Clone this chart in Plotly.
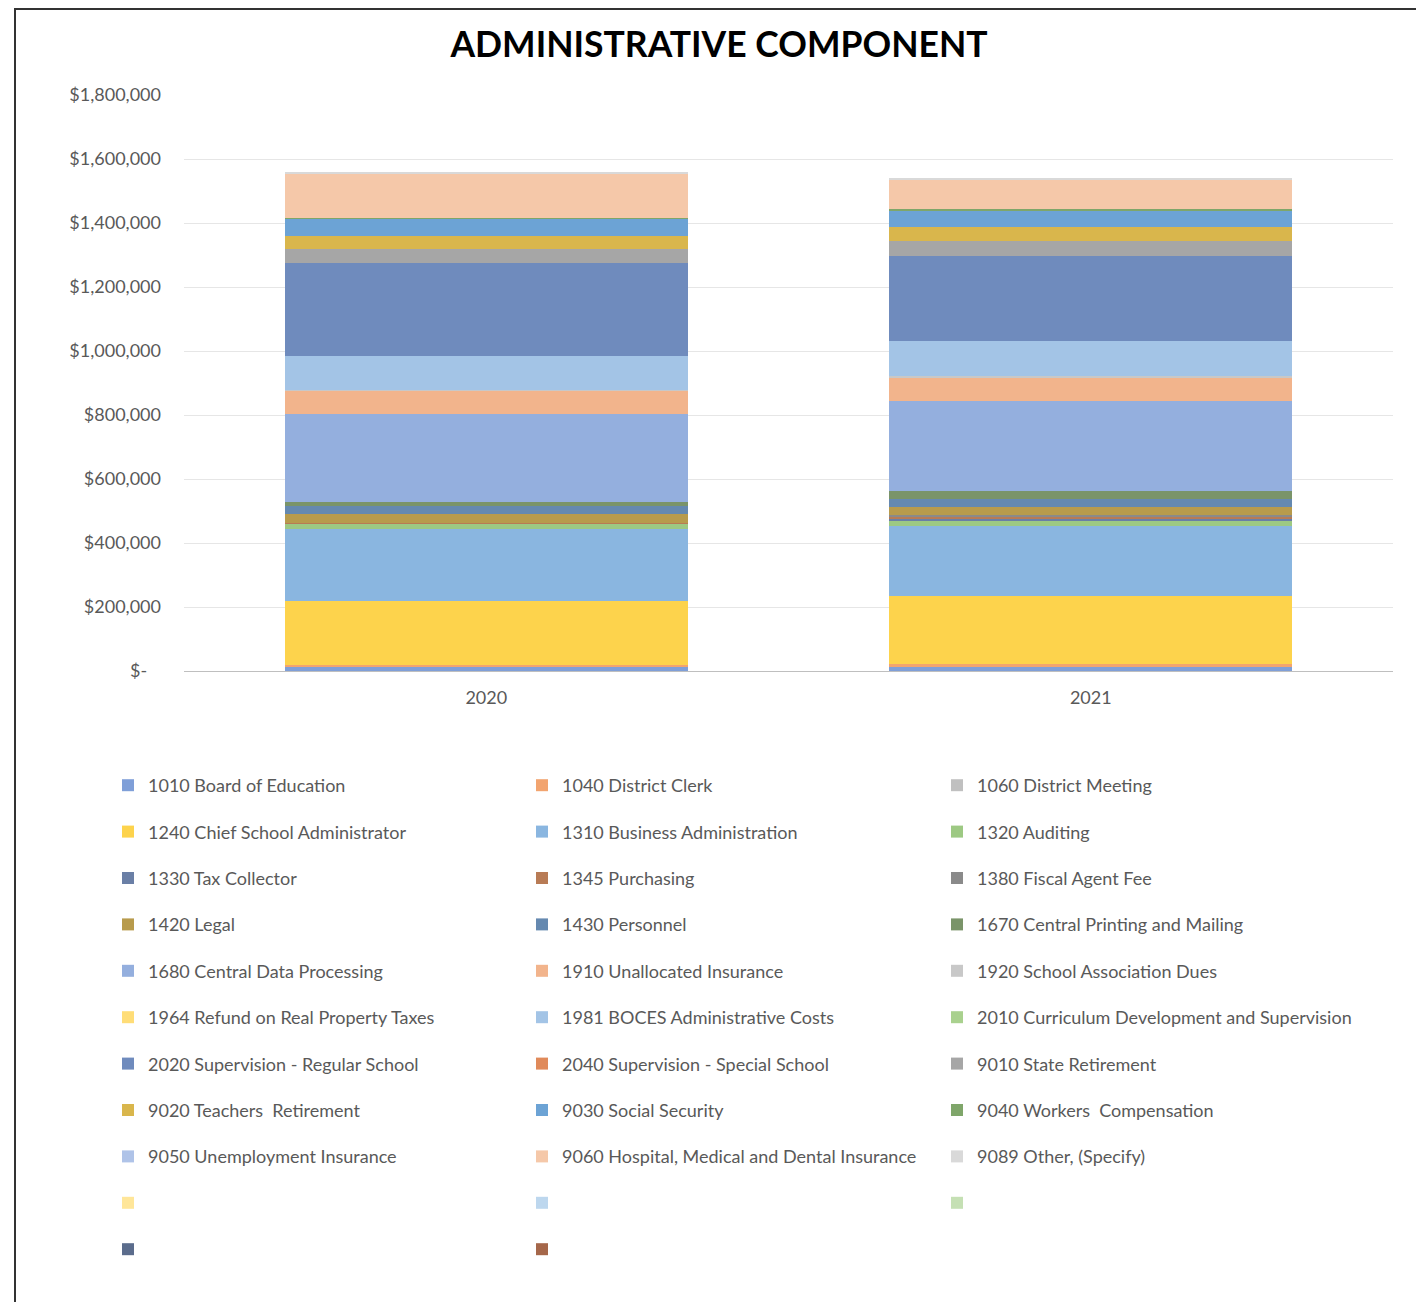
import plotly.graph_objects as go

years = ["2020", "2021"]

series_names = [
    "1010 Board of Education", "1040 District Clerk", "1060 District Meeting",
    "1240 Chief School Administrator", "1310 Business Administration", "1320 Auditing",
    "1330 Tax Collector", "1345 Purchasing", "1380 Fiscal Agent Fee",
    "1420 Legal", "1430 Personnel", "1670 Central Printing and Mailing",
    "1680 Central Data Processing", "1910 Unallocated Insurance", "1920 School Association Dues",
    "1964 Refund on Real Property Taxes", "1981 BOCES Administrative Costs", "2010 Curriculum Development and Supervision",
    "2020 Supervision - Regular School", "2040 Supervision - Special School", "9010 State Retirement",
    "9020 Teachers  Retirement", "9030 Social Security", "9040 Workers  Compensation",
    "9050 Unemployment Insurance", "9060 Hospital, Medical and Dental Insurance", "9089 Other, (Specify)",
    " ", "  ", "   ",
    "    ", "     ",
]

values_2020 = [
    14000, 5000, 0,
    201000, 223000, 16500,
    1500, 1500, 1000,
    26000, 25000, 13500,
    274000, 73000, 4000,
    0, 106000, 0,
    291000, 0, 44000,
    40000, 54000, 3000,
    0, 135000, 7000,
    0, 0, 0,
    0, 0,
]

values_2021 = [
    14000, 7000, 0,
    213000, 219000, 17000,
    7000, 5000, 6000,
    26000, 24000, 23000,
    284000, 72000, 5000,
    0, 109000, 0,
    267000, 0, 45000,
    45000, 51000, 5000,
    0, 89000, 9000,
    0, 0, 0,
    0, 0,
]

series_colors = [
    "#7F9FD8", "#F2A46F", "#C0C0C0",
    "#FDD34C", "#8AB6E0", "#9DC983",
    "#6A7FA6", "#B87B55", "#8A8A8A",
    "#B89B4C", "#6589B0", "#7A9469",
    "#94AFDE", "#F2B48C", "#C8C8C8",
    "#FFDD77", "#A3C4E6", "#A9D18E",
    "#6F8BBD", "#E08A5A", "#A6A6A6",
    "#D9B64C", "#6CA3D5", "#7FA66A",
    "#AFC3E8", "#F5C8A9", "#D9D9D9",
    "#FFE699", "#BDD7EE", "#C5E0B4",
    "#5B6C8C", "#A5674A",
]

y_ticks = [0, 200000, 400000, 600000, 800000, 1000000, 1200000, 1400000, 1600000, 1800000]
y_tick_text = ["$-\u00a0\u00a0\u00a0", "$200,000", "$400,000", "$600,000", "$800,000",
               "$1,000,000", "$1,200,000", "$1,400,000", "$1,600,000", "$1,800,000"]

fig = go.Figure()
legend_ids = ["legend", "legend2", "legend3"]
for i, name in enumerate(series_names):
    fig.add_trace(go.Bar(
        x=years,
        y=[values_2020[i], values_2021[i]],
        name=name,
        marker=dict(color=series_colors[i], line=dict(width=0)),
        legend=legend_ids[i % 3],
        legendgroup="g%d" % i,
        hovertemplate="%{x}<br>" + name + ": $%{y:,.0f}<extra></extra>",
    ))

# The page body has an 8px margin; work in screen pixels and convert.
OFF = 8
PX0, PX1, PY0, PY1 = 184, 1393, 95, 671  # plot area in screen pixels


def px_x(p):
    return (p - PX0) / (PX1 - PX0)


def px_y(p):
    return (PY1 - p) / (PY1 - PY0)


W = 1424 - 2 * OFF
H = 1310 - 2 * OFF
ml = PX0 - OFF
mt = PY0 - OFF
mr = W - ml - (PX1 - PX0)
mb = H - mt - (PY1 - PY0)

font_fam = "Lato, 'Open Sans', sans-serif"
legend_font = dict(family=font_fam, size=18, color="#595959")
legend_common = dict(
    orientation="v", xanchor="left", yanchor="top",
    font=legend_font, tracegroupgap=20.0, bgcolor="rgba(0,0,0,0)",
    traceorder="grouped", itemclick=False, itemdoubleclick=False,
)

fig.update_layout(
    width=W, height=H,
    paper_bgcolor="white", plot_bgcolor="white",
    margin=dict(l=ml, r=mr, t=mt, b=mb),
    barmode="stack",
    bargap=0.333,
    title=dict(
        text="<b>ADMINISTRATIVE COMPONENT</b>",
        x=px_x(719), xanchor="center", xref="paper",
        y=1 - (45 - OFF) / H, yanchor="middle", yref="container",
        font=dict(family=font_fam, size=35.5, color="#000000"),
    ),
    legend=dict(x=px_x(108), y=px_y(767), **legend_common),
    legend2=dict(x=px_x(522), y=px_y(767), **legend_common),
    legend3=dict(x=px_x(937), y=px_y(767), **legend_common),
    xaxis=dict(
        type="category", showgrid=False, showline=True, linecolor="#BFBFBF", linewidth=1,
        tickfont=dict(family=font_fam, size=18, color="#595959"),
        ticks="", ticklabelstandoff=10,
    ),
    yaxis=dict(
        range=[0, 1800000], tickvals=y_ticks, ticktext=y_tick_text,
        showgrid=True, gridcolor="#E6E6E6", gridwidth=1, zeroline=False,
        tickfont=dict(family=font_fam, size=18, color="#595959"),
        ticks="", ticklabelstandoff=22,
    ),
    showlegend=True,
    shapes=[dict(
        type="rect", xref="paper", yref="paper",
        x0=px_x(15), x1=px_x(1421), y0=px_y(1340), y1=px_y(OFF + 1),
        line=dict(color="#333333", width=2), fillcolor="rgba(0,0,0,0)", layer="below",
    )],
)

fig.write_html("out.html")
